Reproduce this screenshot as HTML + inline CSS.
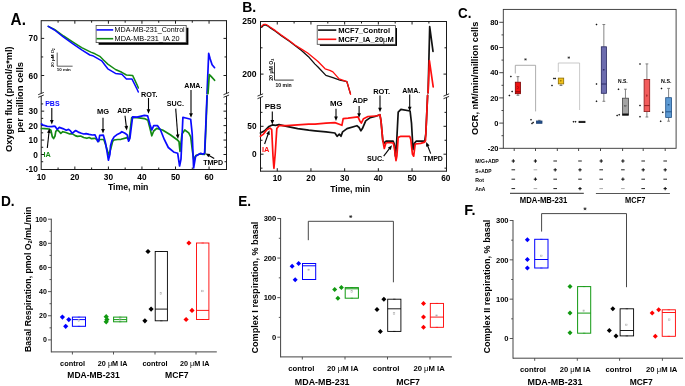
<!DOCTYPE html>
<html><head><meta charset="utf-8"><style>
html,body{margin:0;padding:0;background:#fff;}
svg{display:block;filter:blur(0.3px);}
text{font-family:"Liberation Sans", sans-serif;}
</style></head><body>
<svg width="685" height="386" viewBox="0 0 685 386">
<rect width="685" height="386" fill="#fff"/>
<line x1="41.2" y1="20.7" x2="226.5" y2="20.7" stroke="#1a1a1a" stroke-width="1"/>
<line x1="41.2" y1="169.5" x2="226.5" y2="169.5" stroke="#1a1a1a" stroke-width="1"/>
<line x1="41.2" y1="20.2" x2="41.2" y2="93.45" stroke="#1a1a1a" stroke-width="1"/>
<line x1="41.2" y1="96.05" x2="41.2" y2="170" stroke="#1a1a1a" stroke-width="1"/>
<line x1="38.2" y1="94.7" x2="43.8" y2="92.4" stroke="#1a1a1a" stroke-width="0.9"/>
<line x1="38.2" y1="97.3" x2="43.8" y2="95" stroke="#1a1a1a" stroke-width="0.9"/>
<line x1="226.5" y1="20.2" x2="226.5" y2="93.45" stroke="#1a1a1a" stroke-width="1"/>
<line x1="226.5" y1="96.05" x2="226.5" y2="170" stroke="#1a1a1a" stroke-width="1"/>
<line x1="223.5" y1="94.7" x2="229.1" y2="92.4" stroke="#1a1a1a" stroke-width="0.9"/>
<line x1="223.5" y1="97.3" x2="229.1" y2="95" stroke="#1a1a1a" stroke-width="0.9"/>
<text x="41.3" y="179.7" font-size="8.3" text-anchor="middle" fill="#000" font-weight="bold">10</text>
<line x1="58.07" y1="169.5" x2="58.07" y2="167.5" stroke="#1a1a1a" stroke-width="1"/>
<line x1="58.07" y1="20.7" x2="58.07" y2="22.7" stroke="#1a1a1a" stroke-width="1"/>
<line x1="74.85" y1="169.5" x2="74.85" y2="166.5" stroke="#1a1a1a" stroke-width="1"/>
<line x1="74.85" y1="20.7" x2="74.85" y2="23.7" stroke="#1a1a1a" stroke-width="1"/>
<text x="74.85" y="179.7" font-size="8.3" text-anchor="middle" fill="#000" font-weight="bold">20</text>
<line x1="91.62" y1="169.5" x2="91.62" y2="167.5" stroke="#1a1a1a" stroke-width="1"/>
<line x1="91.62" y1="20.7" x2="91.62" y2="22.7" stroke="#1a1a1a" stroke-width="1"/>
<line x1="108.4" y1="169.5" x2="108.4" y2="166.5" stroke="#1a1a1a" stroke-width="1"/>
<line x1="108.4" y1="20.7" x2="108.4" y2="23.7" stroke="#1a1a1a" stroke-width="1"/>
<text x="108.4" y="179.7" font-size="8.3" text-anchor="middle" fill="#000" font-weight="bold">30</text>
<line x1="125.17" y1="169.5" x2="125.17" y2="167.5" stroke="#1a1a1a" stroke-width="1"/>
<line x1="125.17" y1="20.7" x2="125.17" y2="22.7" stroke="#1a1a1a" stroke-width="1"/>
<line x1="141.95" y1="169.5" x2="141.95" y2="166.5" stroke="#1a1a1a" stroke-width="1"/>
<line x1="141.95" y1="20.7" x2="141.95" y2="23.7" stroke="#1a1a1a" stroke-width="1"/>
<text x="141.95" y="179.7" font-size="8.3" text-anchor="middle" fill="#000" font-weight="bold">40</text>
<line x1="158.72" y1="169.5" x2="158.72" y2="167.5" stroke="#1a1a1a" stroke-width="1"/>
<line x1="158.72" y1="20.7" x2="158.72" y2="22.7" stroke="#1a1a1a" stroke-width="1"/>
<line x1="175.5" y1="169.5" x2="175.5" y2="166.5" stroke="#1a1a1a" stroke-width="1"/>
<line x1="175.5" y1="20.7" x2="175.5" y2="23.7" stroke="#1a1a1a" stroke-width="1"/>
<text x="175.5" y="179.7" font-size="8.3" text-anchor="middle" fill="#000" font-weight="bold">50</text>
<line x1="192.27" y1="169.5" x2="192.27" y2="167.5" stroke="#1a1a1a" stroke-width="1"/>
<line x1="192.27" y1="20.7" x2="192.27" y2="22.7" stroke="#1a1a1a" stroke-width="1"/>
<line x1="209.05" y1="169.5" x2="209.05" y2="166.5" stroke="#1a1a1a" stroke-width="1"/>
<line x1="209.05" y1="20.7" x2="209.05" y2="23.7" stroke="#1a1a1a" stroke-width="1"/>
<text x="209.05" y="179.7" font-size="8.3" text-anchor="middle" fill="#000" font-weight="bold">60</text>
<line x1="41.2" y1="38.4" x2="44.2" y2="38.4" stroke="#1a1a1a" stroke-width="1"/>
<line x1="226.5" y1="38.4" x2="223.5" y2="38.4" stroke="#1a1a1a" stroke-width="1"/>
<text x="37.8" y="41.4" font-size="8.3" text-anchor="end" fill="#000" font-weight="bold">70</text>
<line x1="41.2" y1="56.95" x2="43.2" y2="56.95" stroke="#1a1a1a" stroke-width="1"/>
<line x1="226.5" y1="56.95" x2="224.5" y2="56.95" stroke="#1a1a1a" stroke-width="1"/>
<line x1="41.2" y1="75.5" x2="44.2" y2="75.5" stroke="#1a1a1a" stroke-width="1"/>
<line x1="226.5" y1="75.5" x2="223.5" y2="75.5" stroke="#1a1a1a" stroke-width="1"/>
<text x="37.8" y="78.5" font-size="8.3" text-anchor="end" fill="#000" font-weight="bold">60</text>
<line x1="41.2" y1="103.92" x2="43.2" y2="103.92" stroke="#1a1a1a" stroke-width="1"/>
<line x1="226.5" y1="103.92" x2="224.5" y2="103.92" stroke="#1a1a1a" stroke-width="1"/>
<line x1="41.2" y1="111.15" x2="44.2" y2="111.15" stroke="#1a1a1a" stroke-width="1"/>
<line x1="226.5" y1="111.15" x2="223.5" y2="111.15" stroke="#1a1a1a" stroke-width="1"/>
<text x="37.8" y="114.15" font-size="8.3" text-anchor="end" fill="#000" font-weight="bold">30</text>
<line x1="41.2" y1="118.38" x2="43.2" y2="118.38" stroke="#1a1a1a" stroke-width="1"/>
<line x1="226.5" y1="118.38" x2="224.5" y2="118.38" stroke="#1a1a1a" stroke-width="1"/>
<line x1="41.2" y1="125.6" x2="44.2" y2="125.6" stroke="#1a1a1a" stroke-width="1"/>
<line x1="226.5" y1="125.6" x2="223.5" y2="125.6" stroke="#1a1a1a" stroke-width="1"/>
<text x="37.8" y="128.6" font-size="8.3" text-anchor="end" fill="#000" font-weight="bold">20</text>
<line x1="41.2" y1="132.82" x2="43.2" y2="132.82" stroke="#1a1a1a" stroke-width="1"/>
<line x1="226.5" y1="132.82" x2="224.5" y2="132.82" stroke="#1a1a1a" stroke-width="1"/>
<line x1="41.2" y1="140.05" x2="44.2" y2="140.05" stroke="#1a1a1a" stroke-width="1"/>
<line x1="226.5" y1="140.05" x2="223.5" y2="140.05" stroke="#1a1a1a" stroke-width="1"/>
<text x="37.8" y="143.05" font-size="8.3" text-anchor="end" fill="#000" font-weight="bold">10</text>
<line x1="41.2" y1="147.28" x2="43.2" y2="147.28" stroke="#1a1a1a" stroke-width="1"/>
<line x1="226.5" y1="147.28" x2="224.5" y2="147.28" stroke="#1a1a1a" stroke-width="1"/>
<line x1="41.2" y1="154.5" x2="44.2" y2="154.5" stroke="#1a1a1a" stroke-width="1"/>
<line x1="226.5" y1="154.5" x2="223.5" y2="154.5" stroke="#1a1a1a" stroke-width="1"/>
<text x="37.8" y="157.5" font-size="8.3" text-anchor="end" fill="#000" font-weight="bold">0</text>
<line x1="41.2" y1="161.72" x2="43.2" y2="161.72" stroke="#1a1a1a" stroke-width="1"/>
<line x1="226.5" y1="161.72" x2="224.5" y2="161.72" stroke="#1a1a1a" stroke-width="1"/>
<text x="37.8" y="171.95" font-size="8.3" text-anchor="end" fill="#000" font-weight="bold">-10</text>
<text x="128.2" y="189.7" font-size="8.6" text-anchor="middle" fill="#000" font-weight="bold" textLength="40.5" lengthAdjust="spacingAndGlyphs">Time, min</text>
<text x="12.2" y="99.2" font-size="8.4" text-anchor="middle" fill="#000" font-weight="bold" textLength="105.6" lengthAdjust="spacingAndGlyphs" transform="rotate(-90 12.2 99.2)">Oxygen flux (pmol/s*ml)</text>
<text x="23.5" y="97.4" font-size="8.4" text-anchor="middle" fill="#000" font-weight="bold" textLength="70.7" lengthAdjust="spacingAndGlyphs" transform="rotate(-90 23.5 97.4)">per million cells</text>
<text x="10.6" y="25.3" font-size="16" text-anchor="start" fill="#000" font-weight="bold" textLength="15.3" lengthAdjust="spacingAndGlyphs">A.</text>
<rect x="98.6" y="27.8" width="89.8" height="17" fill="#000" stroke="#000" stroke-width="0"/>
<rect x="96.1" y="25.5" width="90.1" height="17.1" fill="#fff" stroke="#444" stroke-width="0.8"/>
<line x1="96.5" y1="29.9" x2="113.2" y2="29.9" stroke="#0a0aff" stroke-width="1.6"/>
<line x1="96.5" y1="38.7" x2="113.2" y2="38.7" stroke="#138a13" stroke-width="1.6"/>
<text x="114.6" y="32.4" font-size="7.1" text-anchor="start" fill="#000" textLength="70.1" lengthAdjust="spacingAndGlyphs">MDA-MB-231_Control</text>
<text x="114.6" y="41.2" font-size="7.1" text-anchor="start" fill="#000" textLength="65" lengthAdjust="spacingAndGlyphs">MDA-MB-231_IA 20</text>
<line x1="57.2" y1="52.6" x2="57.2" y2="66.2" stroke="#333" stroke-width="0.8"/>
<line x1="57.2" y1="66.2" x2="72.6" y2="66.2" stroke="#333" stroke-width="0.8"/>
<text x="63.8" y="70.5" font-size="4" text-anchor="middle" fill="#000" font-weight="bold" textLength="14" lengthAdjust="spacingAndGlyphs">10 min</text>
<text x="54.5" y="57.8" font-size="4.3" text-anchor="middle" fill="#000" font-weight="bold" textLength="19" lengthAdjust="spacingAndGlyphs" transform="rotate(-90 54.5 57.8)">20 μM O<tspan font-size="2.7" dy="1">2</tspan></text>
<polyline points="48.2,26.3 54.5,29.4 63.6,36 72.6,41.8 81.7,47.6 90.8,52.1 95,53.8 99.8,56.3 103.5,60 107.8,64.1 115.5,69.5 121.8,72.3 126.4,75 132.6,75.4 137.3,85.4 138.4,88" fill="none" stroke="#138a13" stroke-width="1.5" stroke-linejoin="round" stroke-linecap="round"/>
<polyline points="48.2,26.3 54.5,30 63.6,37.2 72.6,43.6 81.7,49.9 89.9,55 92.6,55.7 97,58.2 101.7,60.8 104.5,64.5 107.8,68.8 115.5,73.4 121.8,74.2 126.4,78.9 131.9,78.9 137.3,89.7 138.3,92" fill="none" stroke="#0a0aff" stroke-width="1.5" stroke-linejoin="round" stroke-linecap="round"/>
<polyline points="207,93.7 208.7,53.4 210.2,58.9 212.1,64.7 214.6,67.7" fill="none" stroke="#0a0aff" stroke-width="1.7" stroke-linejoin="round" stroke-linecap="round"/>
<polyline points="208,93.7 209.3,74.6 211.1,76.4 214.6,80.3" fill="none" stroke="#138a13" stroke-width="1.7" stroke-linejoin="round" stroke-linecap="round"/>
<polyline points="41.5,128.5 45,128.7 49,129 50.9,130.3 52.3,136.7 53.6,138.5 55,136 55.8,131.3 57.3,129.8 59.3,131.7 60.8,133.3 62.8,131.7 65.9,132.5 69.8,134 72.1,133.6 75.2,135.6 77.5,136.4 80.6,136 83.7,137.5 86.9,138.3 89.2,137.5 91.5,138.7 94.6,138.3 96.2,139.1 97.1,139.5 98.1,141.5 99.7,139.5 103.8,139.5 105.3,143.6 107.4,150.8 108.4,155 110.5,149.8 112.6,141.5 114.1,140 117.7,139.5 121,139.3 127.2,137.6 129,140.3 131.7,117.7 137.1,117.7 144.4,118.6 147.9,120.3 149.9,128 151.8,135.8 153.7,131 156.7,128.4 162.5,130 170.3,134.8 177.1,139.7 179,141.6 180,151.4 182,133.9 184.8,130 188.7,132.9 190.7,136.8 192.3,150 193.8,160 195.8,155.5 200,154 204.7,154.5 205.8,130 206.6,110 207.2,95.6" fill="none" stroke="#138a13" stroke-width="1.7" stroke-linejoin="round" stroke-linecap="round"/>
<polyline points="41.5,124 43,125 47.3,126.4 51.8,126.7 54.5,126.2 55.2,126.4 57.3,129.4 59.3,127.4 62.8,128.6 66.3,130.2 68.6,129.4 70.5,130.9 72.1,133.3 75.6,130.5 78.3,132.1 81.4,133.3 83.7,134 86.1,133.6 89.2,134.4 92.3,135 95,134.8 96.2,137.5 97.7,141.4 98.6,141.5 99.7,135.3 103.3,135.1 105.3,142 106.9,150.8 108.4,160.2 110,154 110.5,145.7 112,140.5 114.1,136.9 116.7,134.8 119.8,133.3 121.9,131.7 125,133.3 127.2,134.9 128.6,141.2 129.9,138.5 132.6,116.8 137.1,117.1 144.4,115.3 147.6,115.8 148.9,120.4 149.9,124.2 151.8,130 153.7,125.7 157.6,125.7 160.5,130 164.4,139.7 168.3,147.5 174.2,152.3 177.7,153.3 179.6,166 181,159.1 182.9,117.4 185.8,118 190.7,119.3 192.2,133.9 193.6,168 195.6,156.4 197.6,155 200.7,153.3 202.8,154.3 204.6,153.3 205.6,130 206.4,110 207,95.6" fill="none" stroke="#0a0aff" stroke-width="1.7" stroke-linejoin="round" stroke-linecap="round"/>
<text x="52.4" y="106.4" font-size="7.1" text-anchor="middle" fill="#0a0aff" font-weight="bold" textLength="14.5" lengthAdjust="spacingAndGlyphs">PBS</text>
<line x1="51.8" y1="108" x2="51.8" y2="120.5" stroke="#000" stroke-width="1.1"/>
<polygon points="51.8,124.5 49.95,120 53.65,120" fill="#000"/>
<text x="47.2" y="156.6" font-size="7.1" text-anchor="middle" fill="#138a13" font-weight="bold" textLength="7.3" lengthAdjust="spacingAndGlyphs">IA</text>
<line x1="47.3" y1="148" x2="48.97" y2="132.48" stroke="#000" stroke-width="1.1"/>
<polygon points="49.4,128.5 50.76,133.17 47.08,132.78" fill="#000"/>
<text x="103" y="114" font-size="7.1" text-anchor="middle" fill="#000" font-weight="bold" textLength="12.1" lengthAdjust="spacingAndGlyphs">MG</text>
<line x1="103" y1="117.7" x2="103" y2="129.6" stroke="#000" stroke-width="1.1"/>
<polygon points="103,133.6 101.15,129.1 104.85,129.1" fill="#000"/>
<text x="124.6" y="112.6" font-size="7.1" text-anchor="middle" fill="#000" font-weight="bold" textLength="14.8" lengthAdjust="spacingAndGlyphs">ADP</text>
<line x1="125" y1="115.8" x2="126.31" y2="126.53" stroke="#000" stroke-width="1.1"/>
<polygon points="126.8,130.5 124.42,126.26 128.09,125.81" fill="#000"/>
<text x="149.2" y="96.7" font-size="7.1" text-anchor="middle" fill="#000" font-weight="bold" textLength="16.5" lengthAdjust="spacingAndGlyphs">ROT.</text>
<line x1="148.5" y1="98" x2="148.5" y2="109.8" stroke="#000" stroke-width="1.1"/>
<polygon points="148.5,113.8 146.65,109.3 150.35,109.3" fill="#000"/>
<text x="175.4" y="105.7" font-size="7.1" text-anchor="middle" fill="#000" font-weight="bold" textLength="17.1" lengthAdjust="spacingAndGlyphs">SUC.</text>
<line x1="175.7" y1="108.6" x2="177.7" y2="135.01" stroke="#000" stroke-width="1.1"/>
<polygon points="178,139 175.82,134.65 179.51,134.37" fill="#000"/>
<text x="193.4" y="88.1" font-size="7.1" text-anchor="middle" fill="#000" font-weight="bold" textLength="18.1" lengthAdjust="spacingAndGlyphs">AMA.</text>
<line x1="191" y1="90" x2="191" y2="113.8" stroke="#000" stroke-width="1.1"/>
<polygon points="191,117.8 189.15,113.3 192.85,113.3" fill="#000"/>
<text x="213.2" y="165.2" font-size="7" text-anchor="middle" fill="#000" font-weight="bold" textLength="20" lengthAdjust="spacingAndGlyphs">TMPD</text>
<line x1="214.2" y1="158.5" x2="208.95" y2="155.42" stroke="#000" stroke-width="1.1"/>
<polygon points="205.5,153.4 210.32,154.08 208.45,157.27" fill="#000"/>
<line x1="260.5" y1="21.5" x2="446.5" y2="21.5" stroke="#1a1a1a" stroke-width="1"/>
<line x1="260.5" y1="171.2" x2="446.5" y2="171.2" stroke="#1a1a1a" stroke-width="1"/>
<line x1="260.5" y1="21" x2="260.5" y2="94.85" stroke="#1a1a1a" stroke-width="1"/>
<line x1="260.5" y1="97.45" x2="260.5" y2="171.7" stroke="#1a1a1a" stroke-width="1"/>
<line x1="257.5" y1="96.1" x2="263.1" y2="93.8" stroke="#1a1a1a" stroke-width="0.9"/>
<line x1="257.5" y1="98.7" x2="263.1" y2="96.4" stroke="#1a1a1a" stroke-width="0.9"/>
<line x1="446.5" y1="21" x2="446.5" y2="94.85" stroke="#1a1a1a" stroke-width="1"/>
<line x1="446.5" y1="97.45" x2="446.5" y2="171.7" stroke="#1a1a1a" stroke-width="1"/>
<line x1="443.5" y1="96.1" x2="449.1" y2="93.8" stroke="#1a1a1a" stroke-width="0.9"/>
<line x1="443.5" y1="98.7" x2="449.1" y2="96.4" stroke="#1a1a1a" stroke-width="0.9"/>
<line x1="277.25" y1="171.2" x2="277.25" y2="168.2" stroke="#1a1a1a" stroke-width="1"/>
<line x1="277.25" y1="21.5" x2="277.25" y2="24.5" stroke="#1a1a1a" stroke-width="1"/>
<line x1="294.1" y1="21.5" x2="294.1" y2="23.5" stroke="#1a1a1a" stroke-width="1"/>
<line x1="310.95" y1="171.2" x2="310.95" y2="168.2" stroke="#1a1a1a" stroke-width="1"/>
<line x1="310.95" y1="21.5" x2="310.95" y2="24.5" stroke="#1a1a1a" stroke-width="1"/>
<line x1="327.8" y1="21.5" x2="327.8" y2="23.5" stroke="#1a1a1a" stroke-width="1"/>
<line x1="344.65" y1="171.2" x2="344.65" y2="168.2" stroke="#1a1a1a" stroke-width="1"/>
<line x1="344.65" y1="21.5" x2="344.65" y2="24.5" stroke="#1a1a1a" stroke-width="1"/>
<line x1="361.5" y1="21.5" x2="361.5" y2="23.5" stroke="#1a1a1a" stroke-width="1"/>
<line x1="378.35" y1="171.2" x2="378.35" y2="168.2" stroke="#1a1a1a" stroke-width="1"/>
<line x1="378.35" y1="21.5" x2="378.35" y2="24.5" stroke="#1a1a1a" stroke-width="1"/>
<line x1="395.2" y1="21.5" x2="395.2" y2="23.5" stroke="#1a1a1a" stroke-width="1"/>
<line x1="412.05" y1="171.2" x2="412.05" y2="168.2" stroke="#1a1a1a" stroke-width="1"/>
<line x1="412.05" y1="21.5" x2="412.05" y2="24.5" stroke="#1a1a1a" stroke-width="1"/>
<line x1="428.9" y1="21.5" x2="428.9" y2="23.5" stroke="#1a1a1a" stroke-width="1"/>
<text x="277.25" y="181.3" font-size="8.3" text-anchor="middle" fill="#000" font-weight="bold">10</text>
<text x="310.95" y="181.3" font-size="8.3" text-anchor="middle" fill="#000" font-weight="bold">20</text>
<text x="344.65" y="181.3" font-size="8.3" text-anchor="middle" fill="#000" font-weight="bold">30</text>
<text x="378.35" y="181.3" font-size="8.3" text-anchor="middle" fill="#000" font-weight="bold">40</text>
<text x="412.05" y="181.3" font-size="8.3" text-anchor="middle" fill="#000" font-weight="bold">50</text>
<text x="445.75" y="181.3" font-size="8.3" text-anchor="middle" fill="#000" font-weight="bold">60</text>
<line x1="260.5" y1="47.8" x2="262.5" y2="47.8" stroke="#1a1a1a" stroke-width="1"/>
<line x1="446.5" y1="47.8" x2="444.5" y2="47.8" stroke="#1a1a1a" stroke-width="1"/>
<line x1="260.5" y1="74.1" x2="263.5" y2="74.1" stroke="#1a1a1a" stroke-width="1"/>
<line x1="446.5" y1="74.1" x2="443.5" y2="74.1" stroke="#1a1a1a" stroke-width="1"/>
<text x="256.5" y="23.8" font-size="8.3" text-anchor="end" fill="#000" font-weight="bold" textLength="14.3" lengthAdjust="spacingAndGlyphs">250</text>
<text x="256.5" y="77.1" font-size="8.3" text-anchor="end" fill="#000" font-weight="bold" textLength="14.3" lengthAdjust="spacingAndGlyphs">200</text>
<line x1="260.5" y1="112.35" x2="262.5" y2="112.35" stroke="#1a1a1a" stroke-width="1"/>
<line x1="446.5" y1="112.35" x2="444.5" y2="112.35" stroke="#1a1a1a" stroke-width="1"/>
<line x1="260.5" y1="126.3" x2="263.5" y2="126.3" stroke="#1a1a1a" stroke-width="1"/>
<line x1="446.5" y1="126.3" x2="443.5" y2="126.3" stroke="#1a1a1a" stroke-width="1"/>
<line x1="260.5" y1="140.25" x2="262.5" y2="140.25" stroke="#1a1a1a" stroke-width="1"/>
<line x1="446.5" y1="140.25" x2="444.5" y2="140.25" stroke="#1a1a1a" stroke-width="1"/>
<line x1="260.5" y1="154.2" x2="263.5" y2="154.2" stroke="#1a1a1a" stroke-width="1"/>
<line x1="446.5" y1="154.2" x2="443.5" y2="154.2" stroke="#1a1a1a" stroke-width="1"/>
<line x1="260.5" y1="168.15" x2="262.5" y2="168.15" stroke="#1a1a1a" stroke-width="1"/>
<line x1="446.5" y1="168.15" x2="444.5" y2="168.15" stroke="#1a1a1a" stroke-width="1"/>
<text x="256.5" y="129.3" font-size="8.3" text-anchor="end" fill="#000" font-weight="bold">50</text>
<text x="256.5" y="157.2" font-size="8.3" text-anchor="end" fill="#000" font-weight="bold">0</text>
<text x="350.2" y="191.9" font-size="8.6" text-anchor="middle" fill="#000" font-weight="bold" textLength="40" lengthAdjust="spacingAndGlyphs">Time, min</text>
<text x="242.2" y="12.2" font-size="15.3" text-anchor="start" fill="#000" font-weight="bold" textLength="14" lengthAdjust="spacingAndGlyphs">B.</text>
<rect x="319.9" y="28" width="77.1" height="17.9" fill="#000" stroke="#000" stroke-width="0"/>
<rect x="317.2" y="25.6" width="78.2" height="18.7" fill="#fff" stroke="#444" stroke-width="0.8"/>
<line x1="318.1" y1="30.1" x2="336.3" y2="30.1" stroke="#111" stroke-width="1.6"/>
<line x1="318.1" y1="39.3" x2="336.3" y2="39.3" stroke="#ff1010" stroke-width="1.6"/>
<text x="338.2" y="32.7" font-size="7.3" text-anchor="start" fill="#000" font-weight="bold" textLength="51.9" lengthAdjust="spacingAndGlyphs">MCF7_Control</text>
<text x="338.2" y="41.9" font-size="7.3" text-anchor="start" fill="#000" font-weight="bold" textLength="55.6" lengthAdjust="spacingAndGlyphs">MCF7_IA_20<tspan font-weight="normal">μ</tspan>M</text>
<line x1="274.5" y1="62.3" x2="274.5" y2="80.1" stroke="#222" stroke-width="0.9"/>
<line x1="274.5" y1="80.1" x2="293.7" y2="80.1" stroke="#222" stroke-width="0.9"/>
<text x="283.6" y="86.8" font-size="4.9" text-anchor="middle" fill="#000" font-weight="bold" textLength="16.1" lengthAdjust="spacingAndGlyphs">10 min</text>
<text x="272.7" y="69.8" font-size="5.2" text-anchor="middle" fill="#000" font-weight="bold" textLength="22" lengthAdjust="spacingAndGlyphs" transform="rotate(-90 272.7 69.8)">20 μM O<tspan font-size="3.2" dy="1.2">2</tspan></text>
<polyline points="261.7,27.4 262.8,26 264.3,25.2 265.9,25.2 267.5,25.8 270.7,28.1 275.4,31.2 281.6,35.9 289.4,41.3 295.6,46 301.5,50.6 309.3,57.6 315,64.1 318,67 325.9,75.4 332.9,77.6 339.9,80.1 346.9,81.7 350.4,93.6" fill="none" stroke="#111" stroke-width="1.3" stroke-linejoin="round" stroke-linecap="round"/>
<polyline points="261.4,26.6 262.5,25.2 264,24.4 265.6,24.4 267.2,25 270.4,27.3 275.1,30.4 281.3,35.1 289.1,40.5 295.3,45.2 301.5,49.1 307.7,53 315,59 318,61.5 325.1,68.8 329.8,70.3 332.9,71.9 339.1,78.9 346.9,81.7 350.6,94.3" fill="none" stroke="#ff0f0f" stroke-width="1.3" stroke-linejoin="round" stroke-linecap="round"/>
<polyline points="428.1,92.8 429.7,26.5 433,51.3" fill="none" stroke="#111" stroke-width="1.7" stroke-linejoin="round" stroke-linecap="round"/>
<polyline points="428.1,92.8 429.4,60.5 433.2,86.8" fill="none" stroke="#ff0f0f" stroke-width="1.7" stroke-linejoin="round" stroke-linecap="round"/>
<polyline points="260.4,133 264.6,130.8 269,126.4 272.3,124.9 275.6,125.3 279,124.6 286.7,126.4 297.7,128.6 308.7,130.2 315,130.8 326,131.9 334.9,133 337.1,136.3 339.3,134.1 341,136.3 342.6,131.9 347,128.6 356.9,125.7 359.1,127.5 360.9,130.8 362.4,128.6 365.7,120.9 370.2,117.6 375,116.5 379.9,114.7 381,120.9 382.8,140.7 384.3,143 385.9,141.2 393.2,141.2 394.3,144 395.4,156.2 396.5,145.2 398.2,112.1 400.9,109.4 410.1,111 411.5,123.1 413,149.6 414.6,143 416.3,141.2 424.7,141.2 425.8,134.1 427.6,95.4" fill="none" stroke="#111" stroke-width="1.7" stroke-linejoin="round" stroke-linecap="round"/>
<polyline points="260.4,136.3 263.5,134.1 266.8,129.7 270.1,128 271.7,129.7 273,156.2 273.9,168.3 275.2,154 276.8,128.6 279,125.7 286.7,125.7 297.7,124.9 308.7,124.2 315,124.2 326,123.1 334.9,122.6 339.3,124.2 341.9,125.3 343.2,118.7 348.1,118.2 358,116.9 359.8,120.9 361.3,123.1 363.5,118.7 368,116.5 375,116 376.6,116 379.9,114.7 381,120.9 382.8,140.7 384.3,148.5 385.9,143 388.8,142.5 393.2,143 394.3,147.4 396,160.6 396.9,156.2 398.2,137.4 400.9,136.3 409.7,136.3 410.8,139.6 412.4,154 413.7,156.2 415.2,144 420.7,143.4 424.7,142.1 425.5,140.5 426.5,120 427.6,95.4" fill="none" stroke="#ff0f0f" stroke-width="1.7" stroke-linejoin="round" stroke-linecap="round"/>
<text x="273" y="109.4" font-size="7.8" text-anchor="middle" fill="#000" font-weight="bold" textLength="16.6" lengthAdjust="spacingAndGlyphs">PBS</text>
<line x1="272.3" y1="111.6" x2="272.3" y2="120.4" stroke="#000" stroke-width="1.1"/>
<polygon points="272.3,124.4 270.45,119.9 274.15,119.9" fill="#000"/>
<text x="265.7" y="151.8" font-size="7.8" text-anchor="middle" fill="#ff0f0f" font-weight="bold" textLength="7.5" lengthAdjust="spacingAndGlyphs">IA</text>
<line x1="264.6" y1="144" x2="268.16" y2="133.97" stroke="#000" stroke-width="1.1"/>
<polygon points="269.5,130.2 269.74,135.06 266.25,133.82" fill="#000"/>
<text x="336.3" y="105.9" font-size="7.8" text-anchor="middle" fill="#000" font-weight="bold" textLength="12.6" lengthAdjust="spacingAndGlyphs">MG</text>
<line x1="336" y1="108.8" x2="336" y2="117" stroke="#000" stroke-width="1.1"/>
<polygon points="336,121 334.15,116.5 337.85,116.5" fill="#000"/>
<text x="360.2" y="103.2" font-size="7.3" text-anchor="middle" fill="#000" font-weight="bold" textLength="15.5" lengthAdjust="spacingAndGlyphs">ADP</text>
<line x1="359.1" y1="105.9" x2="359.1" y2="113.8" stroke="#000" stroke-width="1.1"/>
<polygon points="359.1,117.8 357.25,113.3 360.95,113.3" fill="#000"/>
<text x="381.7" y="93.5" font-size="7.1" text-anchor="middle" fill="#000" font-weight="bold" textLength="17" lengthAdjust="spacingAndGlyphs">ROT.</text>
<line x1="380" y1="95.5" x2="380" y2="108.2" stroke="#000" stroke-width="1.1"/>
<polygon points="380,112.2 378.15,107.7 381.85,107.7" fill="#000"/>
<text x="411.2" y="92.5" font-size="7.1" text-anchor="middle" fill="#000" font-weight="bold" textLength="18.1" lengthAdjust="spacingAndGlyphs">AMA.</text>
<line x1="409.7" y1="94.5" x2="409.7" y2="107.2" stroke="#000" stroke-width="1.1"/>
<polygon points="409.7,111.2 407.85,106.7 411.55,106.7" fill="#000"/>
<text x="375.5" y="160.5" font-size="7.1" text-anchor="middle" fill="#000" font-weight="bold" textLength="17.2" lengthAdjust="spacingAndGlyphs">SUC.</text>
<line x1="383.7" y1="156.2" x2="389.59" y2="148.39" stroke="#000" stroke-width="1.1"/>
<polygon points="392,145.2 390.77,149.91 387.81,147.68" fill="#000"/>
<text x="433" y="161" font-size="7" text-anchor="middle" fill="#000" font-weight="bold" textLength="19.7" lengthAdjust="spacingAndGlyphs">TMPD</text>
<line x1="430.7" y1="153.6" x2="427.65" y2="145.73" stroke="#000" stroke-width="1.1"/>
<polygon points="426.2,142 429.55,145.53 426.1,146.86" fill="#000"/>
<rect x="503.3" y="9.4" width="172.8" height="138.9" fill="none" stroke="#333" stroke-width="0.9"/>
<line x1="499.3" y1="148.3" x2="503.3" y2="148.3" stroke="#333" stroke-width="0.9"/>
<text x="498.5" y="151" font-size="7.5" text-anchor="end" fill="#000" font-weight="bold">-20</text>
<line x1="501.5" y1="135.7" x2="503.3" y2="135.7" stroke="#333" stroke-width="0.9"/>
<line x1="499.3" y1="123.1" x2="503.3" y2="123.1" stroke="#333" stroke-width="0.9"/>
<text x="498.5" y="125.8" font-size="7.5" text-anchor="end" fill="#000" font-weight="bold">0</text>
<line x1="501.5" y1="110.5" x2="503.3" y2="110.5" stroke="#333" stroke-width="0.9"/>
<line x1="499.3" y1="97.9" x2="503.3" y2="97.9" stroke="#333" stroke-width="0.9"/>
<text x="498.5" y="100.6" font-size="7.5" text-anchor="end" fill="#000" font-weight="bold">20</text>
<line x1="501.5" y1="85.3" x2="503.3" y2="85.3" stroke="#333" stroke-width="0.9"/>
<line x1="499.3" y1="72.7" x2="503.3" y2="72.7" stroke="#333" stroke-width="0.9"/>
<text x="498.5" y="75.4" font-size="7.5" text-anchor="end" fill="#000" font-weight="bold">40</text>
<line x1="501.5" y1="60.1" x2="503.3" y2="60.1" stroke="#333" stroke-width="0.9"/>
<line x1="499.3" y1="47.5" x2="503.3" y2="47.5" stroke="#333" stroke-width="0.9"/>
<text x="498.5" y="50.2" font-size="7.5" text-anchor="end" fill="#000" font-weight="bold">60</text>
<line x1="501.5" y1="34.9" x2="503.3" y2="34.9" stroke="#333" stroke-width="0.9"/>
<line x1="499.3" y1="22.3" x2="503.3" y2="22.3" stroke="#333" stroke-width="0.9"/>
<text x="498.5" y="25" font-size="7.5" text-anchor="end" fill="#000" font-weight="bold">80</text>
<text x="478.3" y="78.4" font-size="9.2" text-anchor="middle" fill="#000" font-weight="bold" textLength="113.4" lengthAdjust="spacingAndGlyphs" transform="rotate(-90 478.3 78.4)">OCR, nM/min/million cells</text>
<text x="458" y="18.4" font-size="15.3" text-anchor="start" fill="#000" font-weight="bold" textLength="13.4" lengthAdjust="spacingAndGlyphs">C.</text>
<line x1="514.2" y1="148.3" x2="514.2" y2="151" stroke="#333" stroke-width="0.9"/>
<line x1="535.5" y1="148.3" x2="535.5" y2="151" stroke="#333" stroke-width="0.9"/>
<line x1="557.3" y1="148.3" x2="557.3" y2="151" stroke="#333" stroke-width="0.9"/>
<line x1="578.6" y1="148.3" x2="578.6" y2="151" stroke="#333" stroke-width="0.9"/>
<line x1="600.5" y1="148.3" x2="600.5" y2="151" stroke="#333" stroke-width="0.9"/>
<line x1="622.6" y1="148.3" x2="622.6" y2="151" stroke="#333" stroke-width="0.9"/>
<line x1="643.2" y1="148.3" x2="643.2" y2="151" stroke="#333" stroke-width="0.9"/>
<line x1="665.2" y1="148.3" x2="665.2" y2="151" stroke="#333" stroke-width="0.9"/>
<text x="475.2" y="163.2" font-size="5" text-anchor="start" fill="#000" font-weight="bold" textLength="23.6" lengthAdjust="spacingAndGlyphs">M/G+ADP</text>
<line x1="511.65" y1="161" x2="514.95" y2="161" stroke="#111" stroke-width="1.05"/>
<line x1="513.3" y1="159.35" x2="513.3" y2="162.65" stroke="#111" stroke-width="1.05"/>
<line x1="533.75" y1="161" x2="537.05" y2="161" stroke="#111" stroke-width="1.05"/>
<line x1="535.4" y1="159.35" x2="535.4" y2="162.65" stroke="#111" stroke-width="1.05"/>
<line x1="553.4" y1="161" x2="557" y2="161" stroke="#222" stroke-width="1"/>
<line x1="578.2" y1="161" x2="581.8" y2="161" stroke="#222" stroke-width="1"/>
<line x1="599.55" y1="161" x2="602.85" y2="161" stroke="#111" stroke-width="1.05"/>
<line x1="601.2" y1="159.35" x2="601.2" y2="162.65" stroke="#111" stroke-width="1.05"/>
<line x1="621.25" y1="161" x2="624.55" y2="161" stroke="#111" stroke-width="1.05"/>
<line x1="622.9" y1="159.35" x2="622.9" y2="162.65" stroke="#111" stroke-width="1.05"/>
<line x1="641.4" y1="161" x2="645" y2="161" stroke="#222" stroke-width="1"/>
<line x1="663.4" y1="161" x2="667" y2="161" stroke="#222" stroke-width="1"/>
<text x="475.2" y="172.5" font-size="5" text-anchor="start" fill="#000" font-weight="bold" textLength="16.4" lengthAdjust="spacingAndGlyphs">S+ADP</text>
<line x1="511.5" y1="169.8" x2="515.1" y2="169.8" stroke="#222" stroke-width="1"/>
<line x1="533.6" y1="169.8" x2="537.2" y2="169.8" stroke="#aaa" stroke-width="1"/>
<line x1="553.55" y1="169.8" x2="556.85" y2="169.8" stroke="#111" stroke-width="1.05"/>
<line x1="555.2" y1="168.15" x2="555.2" y2="171.45" stroke="#111" stroke-width="1.05"/>
<line x1="578.35" y1="169.8" x2="581.65" y2="169.8" stroke="#111" stroke-width="1.05"/>
<line x1="580" y1="168.15" x2="580" y2="171.45" stroke="#111" stroke-width="1.05"/>
<line x1="599.4" y1="169.8" x2="603" y2="169.8" stroke="#222" stroke-width="1"/>
<line x1="621.1" y1="169.8" x2="624.7" y2="169.8" stroke="#222" stroke-width="1"/>
<line x1="641.55" y1="169.8" x2="644.85" y2="169.8" stroke="#111" stroke-width="1.05"/>
<line x1="643.2" y1="168.15" x2="643.2" y2="171.45" stroke="#111" stroke-width="1.05"/>
<line x1="663.55" y1="169.8" x2="666.85" y2="169.8" stroke="#111" stroke-width="1.05"/>
<line x1="665.2" y1="168.15" x2="665.2" y2="171.45" stroke="#111" stroke-width="1.05"/>
<text x="475.2" y="181.9" font-size="5" text-anchor="start" fill="#000" font-weight="bold" textLength="8.7" lengthAdjust="spacingAndGlyphs">Rot</text>
<line x1="511.5" y1="179.2" x2="515.1" y2="179.2" stroke="#222" stroke-width="1"/>
<line x1="533.75" y1="179.2" x2="537.05" y2="179.2" stroke="#111" stroke-width="1.05"/>
<line x1="535.4" y1="177.55" x2="535.4" y2="180.85" stroke="#111" stroke-width="1.05"/>
<line x1="553.4" y1="179.2" x2="557" y2="179.2" stroke="#222" stroke-width="1"/>
<line x1="578.2" y1="179.2" x2="581.8" y2="179.2" stroke="#222" stroke-width="1"/>
<line x1="599.4" y1="179.2" x2="603" y2="179.2" stroke="#222" stroke-width="1"/>
<line x1="621.25" y1="179.2" x2="624.55" y2="179.2" stroke="#111" stroke-width="1.05"/>
<line x1="622.9" y1="177.55" x2="622.9" y2="180.85" stroke="#111" stroke-width="1.05"/>
<line x1="641.4" y1="179.2" x2="645" y2="179.2" stroke="#222" stroke-width="1"/>
<line x1="663.4" y1="179.2" x2="667" y2="179.2" stroke="#222" stroke-width="1"/>
<text x="475.2" y="190.7" font-size="5" text-anchor="start" fill="#000" font-weight="bold" textLength="10.1" lengthAdjust="spacingAndGlyphs">AnA</text>
<line x1="511.5" y1="188.6" x2="515.1" y2="188.6" stroke="#222" stroke-width="1"/>
<line x1="533.6" y1="188.6" x2="537.2" y2="188.6" stroke="#aaa" stroke-width="1"/>
<line x1="553.4" y1="188.6" x2="557" y2="188.6" stroke="#222" stroke-width="1"/>
<line x1="578.35" y1="188.6" x2="581.65" y2="188.6" stroke="#111" stroke-width="1.05"/>
<line x1="580" y1="186.95" x2="580" y2="190.25" stroke="#111" stroke-width="1.05"/>
<line x1="599.4" y1="188.6" x2="603" y2="188.6" stroke="#aaa" stroke-width="1"/>
<line x1="621.1" y1="188.6" x2="624.7" y2="188.6" stroke="#aaa" stroke-width="1"/>
<line x1="641.4" y1="188.6" x2="645" y2="188.6" stroke="#222" stroke-width="1"/>
<line x1="663.55" y1="188.6" x2="666.85" y2="188.6" stroke="#111" stroke-width="1.05"/>
<line x1="665.2" y1="186.95" x2="665.2" y2="190.25" stroke="#111" stroke-width="1.05"/>
<line x1="510" y1="193.4" x2="583.8" y2="193.4" stroke="#555" stroke-width="1.1"/>
<line x1="595.9" y1="193.5" x2="669.9" y2="193.5" stroke="#555" stroke-width="1.1"/>
<text x="543.6" y="203.3" font-size="8.3" text-anchor="middle" fill="#000" font-weight="bold" textLength="47.5" lengthAdjust="spacingAndGlyphs">MDA-MB-231</text>
<text x="635.2" y="203.3" font-size="8.3" text-anchor="middle" fill="#000" font-weight="bold" textLength="20.3" lengthAdjust="spacingAndGlyphs">MCF7</text>
<polyline points="515.3,73.1 515.3,65.3 535.6,65.3 535.6,111" fill="none" stroke="#999" stroke-width="0.8" stroke-linejoin="round" stroke-linecap="round"/>
<line x1="524.3" y1="59.4" x2="526.7" y2="59.4" stroke="#222" stroke-width="0.7"/>
<line x1="524.9" y1="58.36" x2="526.1" y2="60.44" stroke="#222" stroke-width="0.7"/>
<line x1="524.9" y1="60.44" x2="526.1" y2="58.36" stroke="#222" stroke-width="0.7"/>
<polyline points="558.3,71.5 558.3,63 579.6,63 579.6,109.6" fill="none" stroke="#bbb" stroke-width="0.8" stroke-linejoin="round" stroke-linecap="round"/>
<line x1="567.6" y1="57.6" x2="570" y2="57.6" stroke="#222" stroke-width="0.7"/>
<line x1="568.2" y1="56.56" x2="569.4" y2="58.64" stroke="#222" stroke-width="0.7"/>
<line x1="568.2" y1="58.64" x2="569.4" y2="56.56" stroke="#222" stroke-width="0.7"/>
<line x1="517.9" y1="76.6" x2="517.9" y2="82.2" stroke="#666" stroke-width="0.8"/>
<line x1="516.5" y1="76.6" x2="519.3" y2="76.6" stroke="#666" stroke-width="0.8"/>
<line x1="517.9" y1="93.7" x2="517.9" y2="95.3" stroke="#666" stroke-width="0.8"/>
<line x1="516.5" y1="95.3" x2="519.3" y2="95.3" stroke="#666" stroke-width="0.8"/>
<rect x="515.3" y="82.2" width="5.2" height="11.5" fill="#ee1111" stroke="#7a0000" stroke-width="0.8"/>
<line x1="515.3" y1="91.8" x2="520.5" y2="91.8" stroke="#7a0000" stroke-width="0.9"/>
<rect x="517.2" y="86.8" width="1.4" height="1.4" fill="none" stroke="#7a0000" stroke-width="0.4"/>
<polygon points="510.9,75.6 511.9,76.6 510.9,77.6 509.9,76.6" fill="#111"/>
<polygon points="512.1,90.5 513.1,91.5 512.1,92.5 511.1,91.5" fill="#111"/>
<polygon points="509.4,94.6 510.4,95.6 509.4,96.6 508.4,95.6" fill="#111"/>
<line x1="539.3" y1="120.3" x2="539.3" y2="121" stroke="#666" stroke-width="0.8"/>
<line x1="537.9" y1="120.3" x2="540.7" y2="120.3" stroke="#666" stroke-width="0.8"/>
<rect x="536.6" y="121" width="5.4" height="2.3" fill="#2f68b0" stroke="#1b3d6e" stroke-width="0.8"/>
<line x1="536.6" y1="122.2" x2="542" y2="122.2" stroke="#1b3d6e" stroke-width="0.9"/>
<polygon points="531,118.7 532,119.7 531,120.7 530,119.7" fill="#111"/>
<polygon points="532,122.5 533,123.5 532,124.5 531,123.5" fill="#111"/>
<polygon points="533.1,121.4 534.1,122.4 533.1,123.4 532.1,122.4" fill="#111"/>
<line x1="561" y1="83.9" x2="561" y2="85.5" stroke="#666" stroke-width="0.8"/>
<line x1="559.6" y1="85.5" x2="562.4" y2="85.5" stroke="#666" stroke-width="0.8"/>
<rect x="558.3" y="78.1" width="5.4" height="5.8" fill="#f2c21a" stroke="#8a6a00" stroke-width="0.8"/>
<rect x="560.3" y="80.3" width="1.4" height="1.4" fill="none" stroke="#8a6a00" stroke-width="0.4"/>
<polygon points="553.9,77.5 554.9,78.5 553.9,79.5 552.9,78.5" fill="#111"/>
<polygon points="555.2,77.5 556.2,78.5 555.2,79.5 554.2,78.5" fill="#111"/>
<polygon points="552,84.5 553,85.5 552,86.5 551,85.5" fill="#111"/>
<rect x="579" y="121.3" width="6" height="1.3" fill="#222" stroke="#111" stroke-width="0.8"/>
<polygon points="573.5,120.8 574.5,121.8 573.5,122.8 572.5,121.8" fill="#111"/>
<polygon points="575.5,120.8 576.5,121.8 575.5,122.8 574.5,121.8" fill="#111"/>
<line x1="603.85" y1="24.5" x2="603.85" y2="46.8" stroke="#666" stroke-width="0.8"/>
<line x1="602.45" y1="24.5" x2="605.25" y2="24.5" stroke="#666" stroke-width="0.8"/>
<line x1="603.85" y1="93.3" x2="603.85" y2="101.3" stroke="#666" stroke-width="0.8"/>
<line x1="602.45" y1="101.3" x2="605.25" y2="101.3" stroke="#666" stroke-width="0.8"/>
<rect x="601.3" y="46.8" width="5.1" height="46.5" fill="#6c6cae" stroke="#26265e" stroke-width="0.8"/>
<line x1="601.3" y1="84" x2="606.4" y2="84" stroke="#26265e" stroke-width="0.9"/>
<rect x="603.1" y="69.3" width="1.4" height="1.4" fill="none" stroke="#26265e" stroke-width="0.4"/>
<polygon points="596.5,23.5 597.5,24.5 596.5,25.5 595.5,24.5" fill="#111"/>
<polygon points="596.5,83 597.5,84 596.5,85 595.5,84" fill="#111"/>
<polygon points="596.5,100.3 597.5,101.3 596.5,102.3 595.5,101.3" fill="#111"/>
<line x1="625.45" y1="89.2" x2="625.45" y2="98.2" stroke="#666" stroke-width="0.8"/>
<line x1="624.05" y1="89.2" x2="626.85" y2="89.2" stroke="#666" stroke-width="0.8"/>
<rect x="622.4" y="98.2" width="6.1" height="17" fill="#a3a3a3" stroke="#444" stroke-width="0.8"/>
<line x1="622.4" y1="114.3" x2="628.5" y2="114.3" stroke="#444" stroke-width="0.9"/>
<rect x="624.7" y="105.3" width="1.4" height="1.4" fill="none" stroke="#444" stroke-width="0.4"/>
<polygon points="618.5,88.2 619.5,89.2 618.5,90.2 617.5,89.2" fill="#111"/>
<polygon points="617.1,114.5 618.1,115.5 617.1,116.5 616.1,115.5" fill="#111"/>
<polygon points="619.2,113.8 620.2,114.8 619.2,115.8 618.2,114.8" fill="#111"/>
<rect x="622.4" y="113.6" width="6.1" height="1.8" fill="#111"/>
<line x1="646.9" y1="63.9" x2="646.9" y2="79.5" stroke="#666" stroke-width="0.8"/>
<line x1="645.5" y1="63.9" x2="648.3" y2="63.9" stroke="#666" stroke-width="0.8"/>
<line x1="646.9" y1="111.6" x2="646.9" y2="117" stroke="#666" stroke-width="0.8"/>
<line x1="645.5" y1="117" x2="648.3" y2="117" stroke="#666" stroke-width="0.8"/>
<rect x="644.1" y="79.5" width="5.6" height="32.1" fill="#f25c5c" stroke="#8a1a1a" stroke-width="0.8"/>
<line x1="644.1" y1="105.6" x2="649.7" y2="105.6" stroke="#8a1a1a" stroke-width="0.9"/>
<rect x="646.2" y="94.9" width="1.4" height="1.4" fill="none" stroke="#8a1a1a" stroke-width="0.4"/>
<polygon points="640,62.9 641,63.9 640,64.9 639,63.9" fill="#111"/>
<polygon points="640,104.6 641,105.6 640,106.6 639,105.6" fill="#111"/>
<polygon points="640,115.8 641,116.8 640,117.8 639,116.8" fill="#111"/>
<line x1="668.6" y1="88.4" x2="668.6" y2="97.7" stroke="#666" stroke-width="0.8"/>
<line x1="667.2" y1="88.4" x2="670" y2="88.4" stroke="#666" stroke-width="0.8"/>
<line x1="668.6" y1="117.4" x2="668.6" y2="121.2" stroke="#666" stroke-width="0.8"/>
<line x1="667.2" y1="121.2" x2="670" y2="121.2" stroke="#666" stroke-width="0.8"/>
<rect x="665.7" y="97.7" width="5.8" height="19.7" fill="#5d9ad3" stroke="#1e4f84" stroke-width="0.8"/>
<line x1="665.7" y1="111.8" x2="671.5" y2="111.8" stroke="#1e4f84" stroke-width="0.9"/>
<rect x="667.9" y="104.3" width="1.4" height="1.4" fill="none" stroke="#1e4f84" stroke-width="0.4"/>
<polygon points="661.5,87.4 662.5,88.4 661.5,89.4 660.5,88.4" fill="#111"/>
<polygon points="662.8,111.2 663.8,112.2 662.8,113.2 661.8,112.2" fill="#111"/>
<polygon points="660.7,120.2 661.7,121.2 660.7,122.2 659.7,121.2" fill="#111"/>
<text x="622.9" y="82.8" font-size="5" text-anchor="middle" fill="#000" font-weight="bold" textLength="9.7" lengthAdjust="spacingAndGlyphs">N.S.</text>
<text x="666.3" y="83.2" font-size="5" text-anchor="middle" fill="#000" font-weight="bold" textLength="10.4" lengthAdjust="spacingAndGlyphs">N.S.</text>
<line x1="51.3" y1="218.7" x2="51.3" y2="352.4" stroke="#444" stroke-width="1"/>
<line x1="51.3" y1="351.9" x2="216.8" y2="351.9" stroke="#444" stroke-width="1"/>
<line x1="48" y1="339.9" x2="51.3" y2="339.9" stroke="#444" stroke-width="0.9"/>
<text x="46.9" y="342.42" font-size="7" text-anchor="end" fill="#000" font-weight="bold">0</text>
<line x1="48" y1="315.76" x2="51.3" y2="315.76" stroke="#444" stroke-width="0.9"/>
<text x="46.9" y="318.28" font-size="7" text-anchor="end" fill="#000" font-weight="bold">20</text>
<line x1="48" y1="291.62" x2="51.3" y2="291.62" stroke="#444" stroke-width="0.9"/>
<text x="46.9" y="294.14" font-size="7" text-anchor="end" fill="#000" font-weight="bold">40</text>
<line x1="48" y1="267.48" x2="51.3" y2="267.48" stroke="#444" stroke-width="0.9"/>
<text x="46.9" y="270" font-size="7" text-anchor="end" fill="#000" font-weight="bold">60</text>
<line x1="48" y1="243.34" x2="51.3" y2="243.34" stroke="#444" stroke-width="0.9"/>
<text x="46.9" y="245.86" font-size="7" text-anchor="end" fill="#000" font-weight="bold">80</text>
<line x1="48" y1="219.2" x2="51.3" y2="219.2" stroke="#444" stroke-width="0.9"/>
<text x="46.9" y="221.72" font-size="7" text-anchor="end" fill="#000" font-weight="bold">100</text>
<line x1="49.5" y1="327.83" x2="51.3" y2="327.83" stroke="#444" stroke-width="0.9"/>
<line x1="49.5" y1="303.69" x2="51.3" y2="303.69" stroke="#444" stroke-width="0.9"/>
<line x1="49.5" y1="279.55" x2="51.3" y2="279.55" stroke="#444" stroke-width="0.9"/>
<line x1="49.5" y1="255.41" x2="51.3" y2="255.41" stroke="#444" stroke-width="0.9"/>
<line x1="49.5" y1="231.27" x2="51.3" y2="231.27" stroke="#444" stroke-width="0.9"/>
<line x1="72.4" y1="351.9" x2="72.4" y2="354.5" stroke="#444" stroke-width="0.9"/>
<line x1="113.5" y1="351.9" x2="113.5" y2="354.5" stroke="#444" stroke-width="0.9"/>
<line x1="155" y1="351.9" x2="155" y2="354.5" stroke="#444" stroke-width="0.9"/>
<line x1="196" y1="351.9" x2="196" y2="354.5" stroke="#444" stroke-width="0.9"/>
<text x="72.6" y="366.4" font-size="7.4" text-anchor="middle" fill="#000" font-weight="bold" textLength="25" lengthAdjust="spacingAndGlyphs">control</text>
<text x="112.6" y="366.4" font-size="7.4" text-anchor="middle" fill="#000" font-weight="bold" textLength="29.6" lengthAdjust="spacingAndGlyphs">20 <tspan font-weight="normal">μ</tspan>M IA</text>
<text x="155" y="366.4" font-size="7.4" text-anchor="middle" fill="#000" font-weight="bold" textLength="25" lengthAdjust="spacingAndGlyphs">control</text>
<text x="194.8" y="366.4" font-size="7.4" text-anchor="middle" fill="#000" font-weight="bold" textLength="29.6" lengthAdjust="spacingAndGlyphs">20 <tspan font-weight="normal">μ</tspan>M IA</text>
<text x="93.5" y="378.2" font-size="8.6" text-anchor="middle" fill="#000" font-weight="bold" textLength="52.3" lengthAdjust="spacingAndGlyphs">MDA-MB-231</text>
<text x="176.8" y="378.2" font-size="8.6" text-anchor="middle" fill="#000" font-weight="bold" textLength="23.4" lengthAdjust="spacingAndGlyphs">MCF7</text>
<text x="30.6" y="279.4" font-size="8.3" text-anchor="middle" fill="#000" font-weight="bold" textLength="145.3" lengthAdjust="spacingAndGlyphs" transform="rotate(-90 30.6 279.4)">Basal Respiration, pmol O<tspan font-size="5.5" dy="1.5">2</tspan><tspan dy="-1.5">/mL/min</tspan></text>
<text x="0.9" y="206.1" font-size="15.3" text-anchor="start" fill="#000" font-weight="bold" textLength="13.7" lengthAdjust="spacingAndGlyphs">D.</text>
<rect x="72.4" y="317.1" width="13.1" height="9.2" fill="none" stroke="#0000ff" stroke-width="1"/>
<line x1="72.4" y1="319.6" x2="85.5" y2="319.6" stroke="#0000ff" stroke-width="1"/>
<line x1="77.75" y1="317.1" x2="80.15" y2="317.1" stroke="#0000ff" stroke-width="0.5"/>
<line x1="77.75" y1="326.3" x2="80.15" y2="326.3" stroke="#0000ff" stroke-width="0.5"/>
<rect x="78.1" y="319.7" width="1.6" height="1.6" fill="none" stroke="#aaa" stroke-width="0.5"/>
<polygon points="62.4,314.5 65,317.1 62.4,319.7 59.8,317.1" fill="#0000ff"/>
<polygon points="68.8,317 71.4,319.6 68.8,322.2 66.2,319.6" fill="#0000ff"/>
<polygon points="65.7,323.7 68.3,326.3 65.7,328.9 63.1,326.3" fill="#0000ff"/>
<rect x="113.6" y="317.1" width="13.1" height="4.7" fill="none" stroke="#119911" stroke-width="1"/>
<line x1="113.6" y1="319.6" x2="126.7" y2="319.6" stroke="#119911" stroke-width="1"/>
<line x1="118.95" y1="317.1" x2="121.35" y2="317.1" stroke="#119911" stroke-width="0.5"/>
<line x1="118.95" y1="321.8" x2="121.35" y2="321.8" stroke="#119911" stroke-width="0.5"/>
<rect x="119.4" y="318.6" width="1.6" height="1.6" fill="none" stroke="#aaa" stroke-width="0.5"/>
<polygon points="106.2,314.1 108.8,316.7 106.2,319.3 103.6,316.7" fill="#119911"/>
<polygon points="106.9,317 109.5,319.6 106.9,322.2 104.3,319.6" fill="#119911"/>
<polygon points="106.2,319.2 108.8,321.8 106.2,324.4 103.6,321.8" fill="#119911"/>
<rect x="155.2" y="251.5" width="12.2" height="69.3" fill="none" stroke="#000000" stroke-width="0.9"/>
<line x1="155.2" y1="309.1" x2="167.4" y2="309.1" stroke="#000000" stroke-width="0.9"/>
<line x1="160.1" y1="251.5" x2="162.5" y2="251.5" stroke="#000000" stroke-width="0.5"/>
<line x1="160.1" y1="320.8" x2="162.5" y2="320.8" stroke="#000000" stroke-width="0.5"/>
<rect x="160.1" y="292.7" width="1.6" height="1.6" fill="none" stroke="#aaa" stroke-width="0.5"/>
<polygon points="148,248.9 150.6,251.5 148,254.1 145.4,251.5" fill="#000000"/>
<polygon points="151.1,306.5 153.7,309.1 151.1,311.7 148.5,309.1" fill="#000000"/>
<polygon points="144.9,318.2 147.5,320.8 144.9,323.4 142.3,320.8" fill="#000000"/>
<rect x="196.5" y="243" width="12.4" height="76.5" fill="none" stroke="#ff0000" stroke-width="0.9"/>
<line x1="196.5" y1="310.4" x2="208.9" y2="310.4" stroke="#ff0000" stroke-width="0.9"/>
<line x1="201.5" y1="243" x2="203.9" y2="243" stroke="#ff0000" stroke-width="0.5"/>
<line x1="201.5" y1="319.5" x2="203.9" y2="319.5" stroke="#ff0000" stroke-width="0.5"/>
<rect x="201.6" y="290.2" width="1.6" height="1.6" fill="none" stroke="#aaa" stroke-width="0.5"/>
<polygon points="188.9,240.4 191.5,243 188.9,245.6 186.3,243" fill="#ff0000"/>
<polygon points="192,307.8 194.6,310.4 192,313 189.4,310.4" fill="#ff0000"/>
<polygon points="186.1,316.9 188.7,319.5 186.1,322.1 183.5,319.5" fill="#ff0000"/>
<line x1="280.6" y1="218" x2="280.6" y2="357.4" stroke="#444" stroke-width="1"/>
<line x1="280.6" y1="356.9" x2="451.8" y2="356.9" stroke="#444" stroke-width="1"/>
<line x1="277.3" y1="337.2" x2="280.6" y2="337.2" stroke="#444" stroke-width="0.9"/>
<text x="276.3" y="339.94" font-size="7.6" text-anchor="end" fill="#000" font-weight="bold">0</text>
<line x1="277.3" y1="297.63" x2="280.6" y2="297.63" stroke="#444" stroke-width="0.9"/>
<text x="276.3" y="300.37" font-size="7.6" text-anchor="end" fill="#000" font-weight="bold">100</text>
<line x1="277.3" y1="258.06" x2="280.6" y2="258.06" stroke="#444" stroke-width="0.9"/>
<text x="276.3" y="260.8" font-size="7.6" text-anchor="end" fill="#000" font-weight="bold">200</text>
<line x1="277.3" y1="218.49" x2="280.6" y2="218.49" stroke="#444" stroke-width="0.9"/>
<text x="276.3" y="221.23" font-size="7.6" text-anchor="end" fill="#000" font-weight="bold">300</text>
<line x1="278.8" y1="317.41" x2="280.6" y2="317.41" stroke="#444" stroke-width="0.9"/>
<line x1="278.8" y1="277.84" x2="280.6" y2="277.84" stroke="#444" stroke-width="0.9"/>
<line x1="278.8" y1="238.27" x2="280.6" y2="238.27" stroke="#444" stroke-width="0.9"/>
<line x1="302.3" y1="356.9" x2="302.3" y2="359.5" stroke="#444" stroke-width="0.9"/>
<line x1="345" y1="356.9" x2="345" y2="359.5" stroke="#444" stroke-width="0.9"/>
<line x1="387.5" y1="356.9" x2="387.5" y2="359.5" stroke="#444" stroke-width="0.9"/>
<line x1="430" y1="356.9" x2="430" y2="359.5" stroke="#444" stroke-width="0.9"/>
<text x="301.3" y="371.4" font-size="7.4" text-anchor="middle" fill="#000" font-weight="bold" textLength="26.3" lengthAdjust="spacingAndGlyphs">control</text>
<text x="342.8" y="371.4" font-size="7.4" text-anchor="middle" fill="#000" font-weight="bold" textLength="31.6" lengthAdjust="spacingAndGlyphs">20 <tspan font-weight="normal">μ</tspan>M IA</text>
<text x="386.1" y="371.4" font-size="7.4" text-anchor="middle" fill="#000" font-weight="bold" textLength="26.6" lengthAdjust="spacingAndGlyphs">control</text>
<text x="429.1" y="371.4" font-size="7.4" text-anchor="middle" fill="#000" font-weight="bold" textLength="31.4" lengthAdjust="spacingAndGlyphs">20 <tspan font-weight="normal">μ</tspan>M IA</text>
<text x="322.2" y="384.8" font-size="8.6" text-anchor="middle" fill="#000" font-weight="bold" textLength="54.7" lengthAdjust="spacingAndGlyphs">MDA-MB-231</text>
<text x="408.1" y="384.8" font-size="8.6" text-anchor="middle" fill="#000" font-weight="bold" textLength="23.8" lengthAdjust="spacingAndGlyphs">MCF7</text>
<text x="257.6" y="287.6" font-size="8.6" text-anchor="middle" fill="#000" font-weight="bold" textLength="131.9" lengthAdjust="spacingAndGlyphs" transform="rotate(-90 257.6 287.6)">Complex I respiration, % basal</text>
<text x="238.2" y="205.5" font-size="15.3" text-anchor="start" fill="#000" font-weight="bold" textLength="12.8" lengthAdjust="spacingAndGlyphs">E.</text>
<polyline points="308.3,239.8 308.3,221.3 393.4,221.3 393.4,281.9" fill="none" stroke="#333" stroke-width="0.9" stroke-linejoin="round" stroke-linecap="round"/>
<line x1="349.2" y1="216.6" x2="352.2" y2="216.6" stroke="#222" stroke-width="0.8"/>
<line x1="349.95" y1="215.29" x2="351.45" y2="217.91" stroke="#222" stroke-width="0.8"/>
<line x1="349.95" y1="217.91" x2="351.45" y2="215.29" stroke="#222" stroke-width="0.8"/>
<rect x="302.5" y="263.5" width="13.2" height="16" fill="none" stroke="#0000ff" stroke-width="1"/>
<line x1="302.5" y1="265.8" x2="315.7" y2="265.8" stroke="#0000ff" stroke-width="1"/>
<line x1="307.9" y1="263.5" x2="310.3" y2="263.5" stroke="#0000ff" stroke-width="0.5"/>
<line x1="307.9" y1="279.5" x2="310.3" y2="279.5" stroke="#0000ff" stroke-width="0.5"/>
<rect x="307.9" y="269.1" width="1.6" height="1.6" fill="none" stroke="#aaa" stroke-width="0.5"/>
<polygon points="292.1,263.8 294.6,266.3 292.1,268.8 289.6,266.3" fill="#0000ff"/>
<polygon points="298.6,261 301.1,263.5 298.6,266 296.1,263.5" fill="#0000ff"/>
<polygon points="295.2,277.3 297.7,279.8 295.2,282.3 292.7,279.8" fill="#0000ff"/>
<rect x="345.2" y="287.6" width="13.2" height="10.6" fill="none" stroke="#119911" stroke-width="1"/>
<line x1="345.2" y1="288.8" x2="358.4" y2="288.8" stroke="#119911" stroke-width="1"/>
<line x1="350.6" y1="287.6" x2="353" y2="287.6" stroke="#119911" stroke-width="0.5"/>
<line x1="350.6" y1="298.2" x2="353" y2="298.2" stroke="#119911" stroke-width="0.5"/>
<rect x="351" y="290.7" width="1.6" height="1.6" fill="none" stroke="#aaa" stroke-width="0.5"/>
<polygon points="334.7,287.1 337.2,289.6 334.7,292.1 332.2,289.6" fill="#119911"/>
<polygon points="341.4,285.1 343.9,287.6 341.4,290.1 338.9,287.6" fill="#119911"/>
<polygon points="337.9,295.7 340.4,298.2 337.9,300.7 335.4,298.2" fill="#119911"/>
<rect x="387.7" y="299.2" width="13.2" height="32.2" fill="none" stroke="#000000" stroke-width="0.9"/>
<line x1="387.7" y1="308.8" x2="400.9" y2="308.8" stroke="#000000" stroke-width="0.9"/>
<line x1="393.1" y1="299.2" x2="395.5" y2="299.2" stroke="#000000" stroke-width="0.5"/>
<line x1="393.1" y1="331.4" x2="395.5" y2="331.4" stroke="#000000" stroke-width="0.5"/>
<rect x="393.2" y="312.7" width="1.6" height="1.6" fill="none" stroke="#aaa" stroke-width="0.5"/>
<polygon points="383.9,296.7 386.4,299.2 383.9,301.7 381.4,299.2" fill="#000000"/>
<polygon points="377,306.9 379.5,309.4 377,311.9 374.5,309.4" fill="#000000"/>
<polygon points="380.3,328.9 382.8,331.4 380.3,333.9 377.8,331.4" fill="#000000"/>
<rect x="430.3" y="303.4" width="13.2" height="23.9" fill="none" stroke="#ff0000" stroke-width="0.9"/>
<line x1="430.3" y1="317.1" x2="443.5" y2="317.1" stroke="#ff0000" stroke-width="0.9"/>
<line x1="435.7" y1="303.4" x2="438.1" y2="303.4" stroke="#ff0000" stroke-width="0.5"/>
<line x1="435.7" y1="327.3" x2="438.1" y2="327.3" stroke="#ff0000" stroke-width="0.5"/>
<rect x="435.8" y="314.9" width="1.6" height="1.6" fill="none" stroke="#aaa" stroke-width="0.5"/>
<polygon points="423.5,300.9 426,303.4 423.5,305.9 421,303.4" fill="#ff0000"/>
<polygon points="423.5,314.6 426,317.1 423.5,319.6 421,317.1" fill="#ff0000"/>
<polygon points="423.5,324.8 426,327.3 423.5,329.8 421,327.3" fill="#ff0000"/>
<line x1="513" y1="220" x2="513" y2="358.7" stroke="#444" stroke-width="1"/>
<line x1="513" y1="358.2" x2="683" y2="358.2" stroke="#444" stroke-width="1"/>
<line x1="509.7" y1="338.5" x2="513" y2="338.5" stroke="#444" stroke-width="0.9"/>
<text x="508.6" y="341.24" font-size="7.6" text-anchor="end" fill="#000" font-weight="bold">0</text>
<line x1="509.7" y1="299.17" x2="513" y2="299.17" stroke="#444" stroke-width="0.9"/>
<text x="508.6" y="301.91" font-size="7.6" text-anchor="end" fill="#000" font-weight="bold">100</text>
<line x1="509.7" y1="259.84" x2="513" y2="259.84" stroke="#444" stroke-width="0.9"/>
<text x="508.6" y="262.58" font-size="7.6" text-anchor="end" fill="#000" font-weight="bold">200</text>
<line x1="509.7" y1="220.51" x2="513" y2="220.51" stroke="#444" stroke-width="0.9"/>
<text x="508.6" y="223.25" font-size="7.6" text-anchor="end" fill="#000" font-weight="bold">300</text>
<line x1="511.2" y1="318.83" x2="513" y2="318.83" stroke="#444" stroke-width="0.9"/>
<line x1="511.2" y1="279.5" x2="513" y2="279.5" stroke="#444" stroke-width="0.9"/>
<line x1="511.2" y1="240.18" x2="513" y2="240.18" stroke="#444" stroke-width="0.9"/>
<line x1="534.7" y1="358.2" x2="534.7" y2="360.8" stroke="#444" stroke-width="0.9"/>
<line x1="577.3" y1="358.2" x2="577.3" y2="360.8" stroke="#444" stroke-width="0.9"/>
<line x1="619.6" y1="358.2" x2="619.6" y2="360.8" stroke="#444" stroke-width="0.9"/>
<line x1="662.4" y1="358.2" x2="662.4" y2="360.8" stroke="#444" stroke-width="0.9"/>
<text x="533" y="372.2" font-size="7.4" text-anchor="middle" fill="#000" font-weight="bold" textLength="26" lengthAdjust="spacingAndGlyphs">control</text>
<text x="575.2" y="372.2" font-size="7.4" text-anchor="middle" fill="#000" font-weight="bold" textLength="31" lengthAdjust="spacingAndGlyphs">20 <tspan font-weight="normal">μ</tspan>M IA</text>
<text x="618.6" y="372.2" font-size="7.4" text-anchor="middle" fill="#000" font-weight="bold" textLength="26" lengthAdjust="spacingAndGlyphs">control</text>
<text x="661.75" y="372.2" font-size="7.4" text-anchor="middle" fill="#000" font-weight="bold" textLength="31.4" lengthAdjust="spacingAndGlyphs">20 <tspan font-weight="normal">μ</tspan>M IA</text>
<text x="555" y="384.8" font-size="8.6" text-anchor="middle" fill="#000" font-weight="bold" textLength="55.1" lengthAdjust="spacingAndGlyphs">MDA-MB-231</text>
<text x="641.2" y="384.8" font-size="8.6" text-anchor="middle" fill="#000" font-weight="bold" textLength="23.1" lengthAdjust="spacingAndGlyphs">MCF7</text>
<text x="489.6" y="286.6" font-size="8.6" text-anchor="middle" fill="#000" font-weight="bold" textLength="134" lengthAdjust="spacingAndGlyphs" transform="rotate(-90 489.6 286.6)">Complex II respiration, % basal</text>
<text x="464.2" y="214.6" font-size="15.3" text-anchor="start" fill="#000" font-weight="bold" textLength="11.3" lengthAdjust="spacingAndGlyphs">F.</text>
<polyline points="541.6,231.2 541.6,213.6 626.5,213.6 626.5,286.8" fill="none" stroke="#333" stroke-width="0.9" stroke-linejoin="round" stroke-linecap="round"/>
<line x1="583.5" y1="208.8" x2="586.5" y2="208.8" stroke="#222" stroke-width="0.8"/>
<line x1="584.25" y1="207.5" x2="585.75" y2="210.11" stroke="#222" stroke-width="0.8"/>
<line x1="584.25" y1="210.11" x2="585.75" y2="207.5" stroke="#222" stroke-width="0.8"/>
<rect x="534.7" y="239.3" width="13.3" height="28.7" fill="none" stroke="#0000ff" stroke-width="1"/>
<line x1="534.7" y1="259.5" x2="548" y2="259.5" stroke="#0000ff" stroke-width="1"/>
<line x1="540.15" y1="239.3" x2="542.55" y2="239.3" stroke="#0000ff" stroke-width="0.5"/>
<line x1="540.15" y1="268" x2="542.55" y2="268" stroke="#0000ff" stroke-width="0.5"/>
<rect x="540.5" y="255.1" width="1.6" height="1.6" fill="none" stroke="#aaa" stroke-width="0.5"/>
<polygon points="527.4,237.3 529.9,239.8 527.4,242.3 524.9,239.8" fill="#0000ff"/>
<polygon points="527.4,257 529.9,259.5 527.4,262 524.9,259.5" fill="#0000ff"/>
<polygon points="527.4,265.5 529.9,268 527.4,270.5 524.9,268" fill="#0000ff"/>
<rect x="577.6" y="286.6" width="13.1" height="46.6" fill="none" stroke="#119911" stroke-width="1"/>
<line x1="577.6" y1="313.1" x2="590.7" y2="313.1" stroke="#119911" stroke-width="1"/>
<line x1="582.95" y1="286.6" x2="585.35" y2="286.6" stroke="#119911" stroke-width="0.5"/>
<line x1="582.95" y1="333.2" x2="585.35" y2="333.2" stroke="#119911" stroke-width="0.5"/>
<rect x="583" y="310" width="1.6" height="1.6" fill="none" stroke="#aaa" stroke-width="0.5"/>
<polygon points="570,284.1 572.5,286.6 570,289.1 567.5,286.6" fill="#119911"/>
<polygon points="570,310.6 572.5,313.1 570,315.6 567.5,313.1" fill="#119911"/>
<polygon points="570,330.3 572.5,332.8 570,335.3 567.5,332.8" fill="#119911"/>
<rect x="620.1" y="308.8" width="13.5" height="27.1" fill="none" stroke="#000000" stroke-width="0.9"/>
<line x1="620.1" y1="330.5" x2="633.6" y2="330.5" stroke="#000000" stroke-width="0.9"/>
<line x1="625.65" y1="308.8" x2="628.05" y2="308.8" stroke="#000000" stroke-width="0.5"/>
<line x1="625.65" y1="335.9" x2="628.05" y2="335.9" stroke="#000000" stroke-width="0.5"/>
<rect x="625.5" y="324.1" width="1.6" height="1.6" fill="none" stroke="#aaa" stroke-width="0.5"/>
<polygon points="612.8,306.3 615.3,308.8 612.8,311.3 610.3,308.8" fill="#000000"/>
<polygon points="609.3,328 611.8,330.5 609.3,333 606.8,330.5" fill="#000000"/>
<polygon points="616,333.4 618.5,335.9 616,338.4 613.5,335.9" fill="#000000"/>
<rect x="662.2" y="309.8" width="13.2" height="26.5" fill="none" stroke="#ff0000" stroke-width="0.9"/>
<line x1="662.2" y1="312.5" x2="675.4" y2="312.5" stroke="#ff0000" stroke-width="0.9"/>
<line x1="667.6" y1="309.8" x2="670" y2="309.8" stroke="#ff0000" stroke-width="0.5"/>
<line x1="667.6" y1="336.3" x2="670" y2="336.3" stroke="#ff0000" stroke-width="0.5"/>
<rect x="668.4" y="318.9" width="1.6" height="1.6" fill="none" stroke="#aaa" stroke-width="0.5"/>
<polygon points="652.2,310.4 654.7,312.9 652.2,315.4 649.7,312.9" fill="#ff0000"/>
<polygon points="658.7,307.3 661.2,309.8 658.7,312.3 656.2,309.8" fill="#ff0000"/>
<polygon points="655.3,333.8 657.8,336.3 655.3,338.8 652.8,336.3" fill="#ff0000"/>
</svg></body></html>
